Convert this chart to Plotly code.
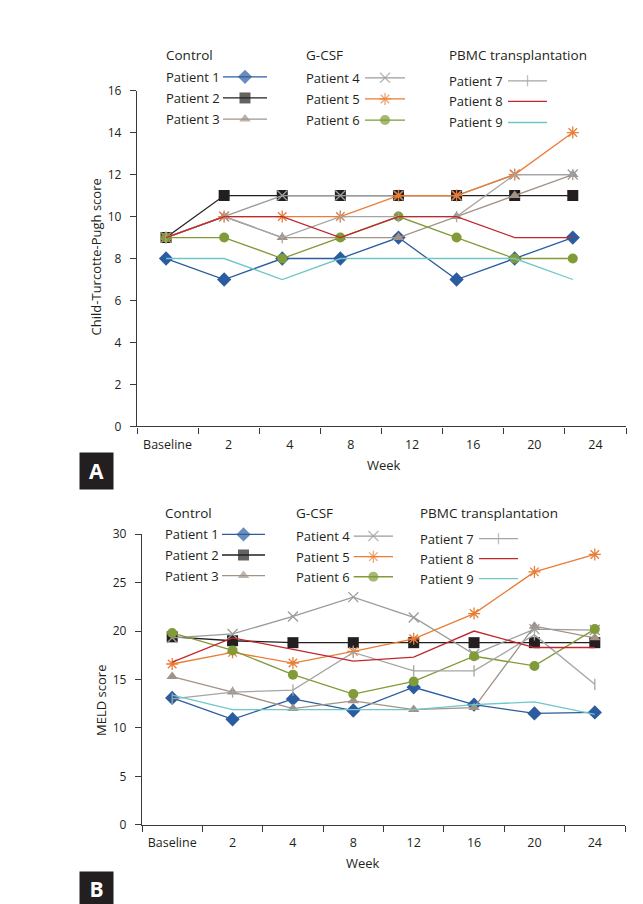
import plotly.graph_objects as go

# x categories (weeks)
weeks = ["Baseline", "2", "4", "8", "12", "16", "20", "24"]
x_idx = list(range(len(weeks)))

# Panel A: Child-Turcotte-Pugh score
ctp_p1 = [8, 7, 8, 8, 9, 7, 8, 9]
ctp_p2 = [9, 11, 11, 11, 11, 11, 11, 11]
ctp_p3 = [9, 10, 9, 9, 9, 10, 11, 12]
ctp_p4 = [9, 10, 11, 11, 11, 11, 12, 12]
ctp_p5 = [9, 10, 10, 10, 11, 11, 12, 14]
ctp_p6 = [9, 9, 8, 9, 10, 9, 8, 8]
ctp_p7 = [9, 10, 9, 10, 10, 10, 12, 12]
ctp_p8 = [9, 10, 10, 9, 10, 10, 9, 9]
ctp_p9 = [8, 8, 7, 8, 8, 8, 8, 7]

# Panel B: MELD score
meld_p1 = [13.1, 10.9, 13.0, 11.8, 14.2, 12.4, 11.5, 11.6]
meld_p2 = [19.4, 19.0, 18.8, 18.8, 18.8, 18.8, 18.8, 18.8]
meld_p3 = [15.3, 13.7, 12.0, 12.8, 11.9, 12.1, 20.5, 19.3]
meld_p4 = [19.3, 19.7, 21.5, 23.5, 21.4, 17.6, 20.2, 20.1]
meld_p5 = [16.6, 17.8, 16.7, 17.9, 19.2, 21.8, 26.1, 27.9]
meld_p6 = [19.8, 18.0, 15.5, 13.5, 14.8, 17.4, 16.4, 20.2]
meld_p7 = [13.0, 13.7, 13.9, 17.8, 15.9, 15.9, 19.6, 14.5]
meld_p8 = [16.8, 19.3, 18.1, 16.9, 17.3, 20.0, 18.3, 18.3]
meld_p9 = [13.4, 11.9, 11.9, 11.9, 11.9, 12.4, 12.7, 11.4]

names = ["Patient %d" % i for i in range(1, 10)]
ctp = [ctp_p1, ctp_p2, ctp_p3, ctp_p4, ctp_p5, ctp_p6, ctp_p7, ctp_p8, ctp_p9]
meld = [meld_p1, meld_p2, meld_p3, meld_p4, meld_p5, meld_p6, meld_p7, meld_p8, meld_p9]

groups = ["Control", "G-CSF", "PBMC transplantation"]

styles = {
    "Patient 1": dict(color="#2b5c9f", symbol="diamond", size=11),
    "Patient 2": dict(color="#231f20", symbol="square", size=11),
    "Patient 3": dict(color="#a39387", symbol="triangle-up", size=10),
    "Patient 4": dict(color="#9b9b9b", symbol="x-thin", size=10),
    "Patient 5": dict(color="#e97d36", symbol="asterisk", size=10),
    "Patient 6": dict(color="#809b37", symbol="circle", size=10),
    "Patient 7": dict(color="#a5a5a5", symbol="line-ns", size=8),
    "Patient 8": dict(color="#c2272d", symbol=None),
    "Patient 9": dict(color="#6fc7c8", symbol=None),
}

W, H = 643, 904
FONT = "Open Sans"
INK = "#231f20"


def px_x(v):
    return v / W


def px_y(v):
    return 1 - v / H


def marker_of(st):
    line_sym = st["symbol"] in ("x-thin", "asterisk", "line-ns")
    return dict(symbol=st["symbol"], size=st["size"], color=st["color"],
                line=dict(color=st["color"], width=1.3 if line_sym else 0))


fig = go.Figure()

# data lines
for panel, (xa, ya) in [(ctp, ("x", "y")), (meld, ("x2", "y2"))]:
    for name, vals in zip(names, panel):
        st = styles[name]
        tr = dict(x=x_idx, y=vals, xaxis=xa, yaxis=ya, name=name, showlegend=False,
                  line=dict(color=st["color"], width=1.3))
        if st["symbol"]:
            fig.add_trace(go.Scatter(mode="lines+markers", marker=marker_of(st), **tr))
        else:
            fig.add_trace(go.Scatter(mode="lines", **tr))

# custom legends: (header, text x, header y, sample line x0/x1, entry y's) in pixels
legend_a = [
    (groups[0], 155.5, 39, (215, 259), [61, 82.5, 104]),
    (groups[1], 296, 39, (357, 397), [62, 83.5, 105]),
    (groups[2], 438.5, 39, (500, 539), [65, 86, 107.5]),
]
legend_b = [
    (groups[0], 154.6, 505, (214, 257), [527.3, 548.3, 569.3]),
    (groups[1], 285.7, 505, (345.7, 385), [529, 550, 570.5]),
    (groups[2], 410, 505, (471, 510), [531.7, 552, 572.3]),
]

annotations = []
for leg in (legend_a, legend_b):
    for g, (header, tx, hy, (lx0, lx1), ys) in enumerate(leg):
        annotations.append(dict(text=header, x=px_x(tx), y=px_y(hy), xref="paper", yref="paper",
                                xanchor="left", yanchor="middle", showarrow=False,
                                font=dict(size=13.5, family=FONT, color=INK)))
        for k, yy in enumerate(ys):
            name = names[g * 3 + k]
            st = styles[name]
            annotations.append(dict(text=name, x=px_x(tx), y=px_y(yy), xref="paper", yref="paper",
                                    xanchor="left", yanchor="middle", showarrow=False,
                                    font=dict(size=13, family=FONT, color=INK)))
            mid = (lx0 + lx1) / 2
            sample = dict(x=[lx0, mid, lx1], y=[yy, yy, yy], xaxis="x3", yaxis="y3",
                          showlegend=False, hoverinfo="skip",
                          line=dict(color=st["color"], width=1.3))
            if st["symbol"]:
                m = marker_of(st)
                m["size"] = [0, st["size"], 0]
                fig.add_trace(go.Scatter(mode="lines+markers", marker=m, **sample))
            else:
                fig.add_trace(go.Scatter(mode="lines", **sample))

# axis titles
titles = [
    dict(text="Child-Turcotte-Pugh score", x=px_x(88), y=px_y(245), textangle=-90),
    dict(text="Week", x=px_x(376), y=px_y(457)),
    dict(text="MELD score", x=px_x(93), y=px_y(697), textangle=-90),
    dict(text="Week", x=px_x(355), y=px_y(862)),
]
for a in titles:
    a.update(xref="paper", yref="paper", showarrow=False, xanchor="center", yanchor="middle",
             font=dict(size=13, family=FONT, color=INK))
annotations += titles

# panel letters
for letter, cy, h in [("A", 463, 34), ("B", 888.5, 32)]:
    annotations.append(dict(text="<b>%s</b>" % letter, x=px_x(88), y=px_y(cy), xref="paper", yref="paper",
                            xanchor="center", yanchor="middle", showarrow=False,
                            width=31, height=h, bgcolor=INK,
                            font=dict(size=21, family=FONT, color="white")))

# x axes: labels centred in each week slot, tick marks at slot edges
a_lo, a_step = -0.5, 1.052   # panel A points sit on a slightly narrower scale than its slots
b_lo, b_step = -0.5, 1.0
axis_common = dict(showline=True, linecolor="#3a3a3a", linewidth=1.3, showgrid=False, zeroline=False)


def x_axis(domain, lo, step, anchor):
    return dict(domain=domain, range=[lo, lo + step * 8], anchor=anchor,
                tickmode="array", tickvals=[lo + step * (k + 0.5) for k in range(8)], ticktext=weeks,
                ticks="", ticklabelstandoff=6,
                tickfont=dict(size=12.5, family=FONT, color=INK),
                minor=dict(tickmode="array", tickvals=[lo + step * k for k in range(9)],
                           ticks="outside", ticklen=6, tickwidth=1.3, tickcolor="#3a3a3a"),
                **axis_common)


def y_axis(domain, rng, dtick, anchor):
    return dict(domain=domain, range=rng, dtick=dtick, anchor=anchor,
                ticks="outside", ticklen=6, tickwidth=1.3, tickcolor="#3a3a3a", ticklabelstandoff=6,
                tickfont=dict(size=12, family=FONT, color=INK), **axis_common)


fig.update_layout(
    width=W, height=H,
    margin=dict(l=0, r=0, t=0, b=0),
    paper_bgcolor="white", plot_bgcolor="rgba(0,0,0,0)",
    font=dict(family=FONT, color=INK),
    xaxis=x_axis([129 / W, 618 / W], a_lo, a_step, "y"),
    yaxis=y_axis([px_y(417.3), px_y(75)], [0, 16], 2, "x"),
    xaxis2=x_axis([134 / W, 617 / W], b_lo, b_step, "y2"),
    yaxis2=y_axis([px_y(823.4), px_y(527)], [0, 30], 5, "x2"),
    xaxis3=dict(domain=[0, 1], range=[0, W], visible=False, anchor="y3", fixedrange=True),
    yaxis3=dict(domain=[0, 1], range=[H, 0], visible=False, anchor="x3", fixedrange=True),
    annotations=annotations,
    hovermode=False,
)

fig.write_html("out.html")
